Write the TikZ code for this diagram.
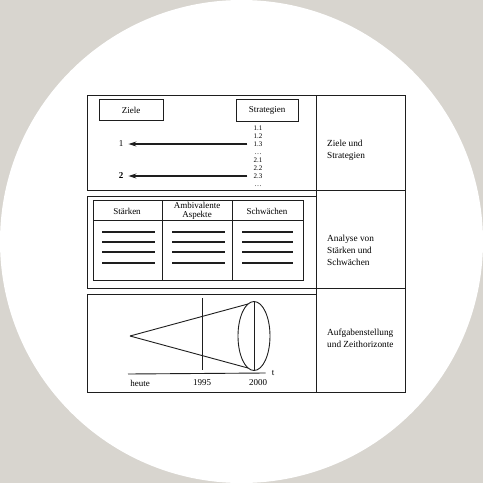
\documentclass[tikz,border=0pt]{standalone}
\usepackage{fontspec}
\setmainfont{Liberation Serif}
\usetikzlibrary{arrows.meta}
\definecolor{bggray}{RGB}{216,213,207}
\definecolor{ink}{RGB}{30,30,30}

\begin{document}
\begin{tikzpicture}[x=1pt, y=-1pt, >={Stealth[length=8pt,width=5pt]},
  frame/.style={draw=ink, line width=0.9pt},
  lbl/.style={font=\fontsize{9}{10}\selectfont, inner sep=0pt},
  num/.style={font=\fontsize{7}{8}\selectfont, inner sep=0pt, text height=4.8pt, text depth=0pt},
  side/.style={font=\fontsize{9.3}{12}\selectfont, align=left, anchor=west, inner sep=0pt},
  bar/.style={draw=ink, line width=2.5pt}]
  % background
  \fill[bggray] (0,0) rectangle (483,483);
  \fill[white] (241.5,241.5) circle[radius=241.5];
  \useasboundingbox (0,0) rectangle (483,483);

  % frame: three boxes on the left, one column on the right
  \draw[frame] (87,95) rectangle (316,190);
  \draw[frame] (87,196) rectangle (316,288);
  \draw[frame] (87,294) rectangle (316,392);
  \draw[frame] (316,95) rectangle (405,392);
  \draw[frame] (316,190) -- (405,190);
  \draw[frame] (316,288) -- (405,288);

  % Ziele und Strategien
  \node[frame, lbl, minimum width=64pt, minimum height=21pt] (ziele) at (131,110) {Ziele};
  \node[frame, lbl, minimum width=62pt, minimum height=22pt] (strat) at (267,110) {Strategien};
  \foreach \t [count=\i] in {1.1,1.2,1.3,\dots,2.1,2.2,2.3,\dots}
    \node[num] (n\i) at (258,120+8*\i) {\t};
  \node[lbl] (z1) at (121,144) {1};
  \node[lbl, font=\fontsize{9}{10}\selectfont\bfseries] (z2) at (121,176) {2};
  \draw[->, ink, line width=1.1pt] ([xshift=-6pt]n3.west) -- ([xshift=5pt]z1.east);
  \draw[->, ink, line width=1.1pt] ([xshift=-6pt]n7.west) -- ([xshift=5pt]z2.east);
  \node[side] (r1) at (327,150) {Ziele und\\Strategien};

  % Analyse
  \draw[frame] (93,200) rectangle (303,280);
  \draw[frame] (93,220) -- (303,220);
  \draw[frame] (162,200) -- (162,280);
  \draw[frame] (232,200) -- (232,280);
  \node[lbl] (staerken) at (127,211) {Stärken};
  \node[lbl, align=center, font=\fontsize{9}{8.5}\selectfont] (ambi) at (197,211) {Ambivalente\\Aspekte};
  \node[lbl] (schwach) at (267,211) {Schwächen};
  \foreach \y in {232,242,252,263} {
    \draw[bar] (102,\y) -- (155,\y);
    \draw[bar] (172,\y) -- (225,\y);
    \draw[bar] (242,\y) -- (293,\y);
  }
  \node[side] (r2) at (327,250) {Analyse von\\Stärken und\\Schwächen};

  % Aufgabenstellung
  \coordinate (apex) at (130,336);
  \coordinate (ctop) at (248,304);
  \coordinate (cbot) at (248,368);
  \draw[frame] (254,336) ellipse[x radius=16, y radius=34.5];
  \draw[frame] (apex) -- (ctop);
  \draw[frame] (apex) -- (cbot);
  \draw[frame] (254,301.5) -- (254,370.5);
  \draw[frame] (202,298) -- (202,370);
  \coordinate (t0) at (128,374);
  \node[lbl] (tlab) at (273,373) {t};
  \draw[frame] (t0) -- ([xshift=-6pt]tlab.west);
  \node[lbl] (heute) at (140,383) {heute};
  \node[lbl] (y1995) at (202,383) {1995};
  \node[lbl] (y2000) at (258,383) {2000};
  \node[side] (r3) at (327,338) {Aufgabenstellung\\und Zeithorizonte};
\end{tikzpicture}
\end{document}
